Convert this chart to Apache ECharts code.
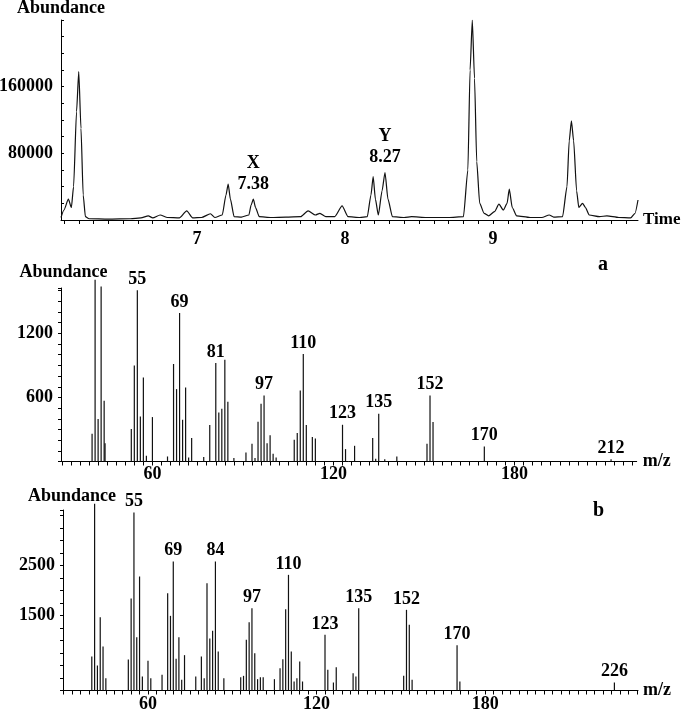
<!DOCTYPE html>
<html>
<head>
<meta charset="utf-8">
<script src="https://cdn.jsdelivr.net/npm/echarts@6/dist/echarts.min.js"></script>
<style>
  html, body { margin: 0; padding: 0; background: #fff; }
  #chart { width: 684px; height: 711px; }
</style>
</head>
<body>
<div id="chart"></div>
<script>
// total ion chromatogram (time in min, abundance)
const chromTime = [6.08, 6.10, 6.13, 6.15, 6.165, 6.185, 6.20, 6.215, 6.23, 6.245, 6.27, 6.40, 6.55, 6.62, 6.67, 6.70, 6.75, 6.80, 6.88, 6.93, 6.97,
  7.03, 7.09, 7.12, 7.17, 7.195, 7.21, 7.225, 7.25, 7.30, 7.35, 7.365, 7.38, 7.395, 7.42, 7.50, 7.60, 7.70, 7.75, 7.80, 7.83, 7.87, 7.93, 7.98, 8.02,
  8.10, 8.15, 8.175, 8.19, 8.205, 8.225, 8.25, 8.27, 8.29, 8.32, 8.40, 8.45, 8.55, 8.70, 8.80, 8.83, 8.845, 8.86, 8.875, 8.89, 8.91, 8.94, 8.97,
  9.01, 9.04, 9.07, 9.095, 9.11, 9.13, 9.16, 9.25, 9.33, 9.38, 9.41, 9.47, 9.50, 9.515, 9.53, 9.545, 9.565, 9.58, 9.605, 9.625, 9.65, 9.72, 9.77, 9.85,
  9.93, 9.96, 9.98];
const chromAbund = [3000, 12000, 25000, 15000, 40000, 130000, 178000, 110000, 30000, 4000, 1500, 1000, 1500, 2500, 5000, 2500, 6000, 3000, 2500, 11000, 2500,
  3000, 7500, 3000, 6000, 30000, 43000, 25000, 4000, 3500, 6000, 18000, 25000, 15000, 4000, 3000, 3500, 4000, 11000, 6000, 8000, 4000, 4000, 17000, 4000,
  3000, 4000, 30000, 52000, 25000, 6000, 35000, 57000, 25000, 4000, 3000, 4000, 3000, 3000, 4000, 60000, 180000, 240000, 170000, 70000, 20000, 8000, 5000,
  10000, 19000, 12000, 20000, 37000, 15000, 5000, 3000, 3000, 6000, 3500, 4000, 40000, 95000, 119000, 95000, 35000, 15000, 20000, 15000, 6000, 4000, 5000, 3000,
  2500, 8000, 24000];
const peakTags = ['X', 'Y'];
const peakTimes = [7.38, 8.27];

// mass spectrum a
const specAMz = [40, 41, 42, 43, 44, 44.3, 53, 54, 55, 56, 57, 58, 60, 65, 67, 68, 69, 70, 71, 72, 73, 77, 79, 81, 82, 83, 84, 85, 87,
  91, 93, 94, 95, 96, 97, 98, 99, 100, 101, 107, 108, 109, 110, 111, 113, 114, 123, 124, 127, 133, 134, 135, 137, 141, 151, 152, 153, 170, 212];
const specAInt = [260, 1703, 397, 1640, 569, 170, 304, 900, 1603, 422, 787, 53, 416, 47, 913, 678, 1391, 391, 694, 38, 219, 41, 341, 922, 459, 494, 953, 559, 32,
  84, 166, 32, 372, 541, 619, 172, 247, 72, 38, 203, 266, 666, 1006, 341, 229, 216, 344, 116, 147, 219, 25, 447, 20, 47, 166, 619, 369, 141, 22];
const specALabels = [55, 69, 81, 97, 110, 123, 135, 152, 170, 212];

// mass spectrum b
const specBMz = [40, 41, 42, 43, 44, 45, 53, 54, 55, 56, 57, 58, 60, 61, 65, 67, 68, 69, 70, 71, 72, 73, 77, 79, 80, 81, 82, 83, 84, 85, 87,
  93, 94, 95, 96, 97, 98, 99, 100, 101, 105, 107, 108, 109, 110, 111, 112, 113, 114, 115, 123, 124, 126, 127, 133, 134, 135,
  151, 152, 153, 154, 170, 171, 226];
const specBInt = [680, 3734, 500, 1467, 880, 247, 620, 1840, 3560, 1067, 2280, 280, 593, 247, 313, 1947, 1493, 2580, 633, 1067, 213, 707, 280, 680, 247, 2147, 1040, 1193, 2580, 780, 247,
  267, 293, 1013, 1367, 1647, 747, 227, 267, 267, 227, 447, 627, 1627, 2313, 780, 180, 247, 580, 180, 1113, 413, 160, 467, 347, 280, 1647,
  293, 1613, 1313, 213, 907, 180, 160];
const specBLabels = [55, 69, 84, 97, 110, 123, 135, 152, 170, 226];

const timeLabels = [7, 8, 9];
const mzLabels = [60, 120, 180];

const font = 'Liberation Serif';
const txt = { fontFamily: font, fontWeight: 'bold', fontSize: 18, color: '#000' };

function steps(from, to, step) {
  const out = [];
  for (let v = from; v <= to + 1e-9; v += step) out.push(Math.round(v * 100) / 100);
  return out;
}

function xAxisOf(gridIndex, min, max, labels, ticks, name, nameGap, margin, nameSize) {
  return {
    type: 'value', gridIndex, min, max,
    name, nameLocation: 'end', nameGap,
    nameTextStyle: Object.assign({}, txt, { align: 'left', fontSize: nameSize }),
    axisLine: { lineStyle: { color: '#000', width: 1 } },
    axisTick: { customValues: ticks, length: 4, lineStyle: { color: '#000' } },
    axisLabel: Object.assign({}, txt, { customValues: labels, margin, formatter: v => String(v) }),
    splitLine: { show: false }
  };
}

function yAxisOf(gridIndex, max, interval, labels, inside, nameGap, nameShift) {
  return {
    type: 'value', gridIndex, min: 0, max, interval,
    name: 'Abundance', nameLocation: 'end', nameGap,
    nameTextStyle: Object.assign({}, txt, { padding: [0, 0, 0, nameShift] }),
    axisLine: { show: true, lineStyle: { color: '#000', width: 1 } },
    axisTick: { show: true, inside, length: 3, lineStyle: { color: '#000' } },
    axisLabel: Object.assign({}, txt, { customValues: labels, margin: 8, formatter: v => String(v) }),
    splitLine: { show: false }
  };
}

function spectrum(mz, inten, labels, idx) {
  return {
    type: 'bar', xAxisIndex: idx, yAxisIndex: idx,
    barWidth: 1.2, clip: false,
    itemStyle: { color: '#111' },
    label: Object.assign({}, txt, { show: false, position: 'top', distance: 2, formatter: p => p.value[0] }),
    data: mz.map((m, i) => ({ value: [m, inten[i]], label: { show: labels.includes(m) } }))
  };
}

const chart = echarts.init(document.getElementById('chart'));
chart.setOption({
  animation: false,
  backgroundColor: '#fff',
  textStyle: { fontFamily: font },
  grid: [
    { left: 61, top: 20, width: 577, height: 200, outerBoundsMode: 'none' },
    { left: 61, top: 288, width: 575.7, height: 173.5, outerBoundsMode: 'none' },
    { left: 63, top: 510, width: 575, height: 180.5, outerBoundsMode: 'none' }
  ],
  xAxis: [
    xAxisOf(0, 6.08, 9.98, timeLabels, steps(6.1, 9.9, 0.1), 'Time', 5, 10, 17),
    xAxisOf(1, 29.7, 220.5, mzLabels, steps(30, 219, 3), 'm/z', 6, 4, 18),
    xAxisOf(2, 29.75, 234.4, mzLabels, steps(30, 234, 3), 'm/z', 5, 5, 18)
  ],
  yAxis: [
    yAxisOf(0, 240000, 20000, [80000, 160000], true, 3, 0),
    yAxisOf(1, 1625, 100, [600, 1200], false, 7, 5),
    yAxisOf(2, 3610, 250, [1500, 2500], false, 5, 18)
  ],
  series: [
    {
      type: 'line', xAxisIndex: 0, yAxisIndex: 0,
      symbol: 'none', smooth: 0.2, smoothMonotone: 'x',
      lineStyle: { color: '#111', width: 1.2 },
      data: chromTime.map((t, i) => [t, chromAbund[i]]),
      markPoint: {
        symbol: 'circle', symbolSize: 1,
        itemStyle: { color: 'rgba(0,0,0,0)' },
        label: Object.assign({}, txt, { show: true, position: 'top', distance: 4, lineHeight: 21 }),
        data: peakTags.map((tag, i) => ({
          coord: [peakTimes[i], chromAbund[chromTime.indexOf(peakTimes[i])]],
          label: { formatter: tag + '\n' + peakTimes[i].toFixed(2) }
        }))
      }
    },
    spectrum(specAMz, specAInt, specALabels, 1),
    spectrum(specBMz, specBInt, specBLabels, 2)
  ],
  graphic: [
    { type: 'text', left: 598, top: 255, style: Object.assign({ text: 'a' }, txt, { fill: '#000', fontSize: 20 }) },
    { type: 'text', left: 593, top: 501, style: Object.assign({ text: 'b' }, txt, { fill: '#000', fontSize: 20 }) }
  ]
});
</script>
</body>
</html>
